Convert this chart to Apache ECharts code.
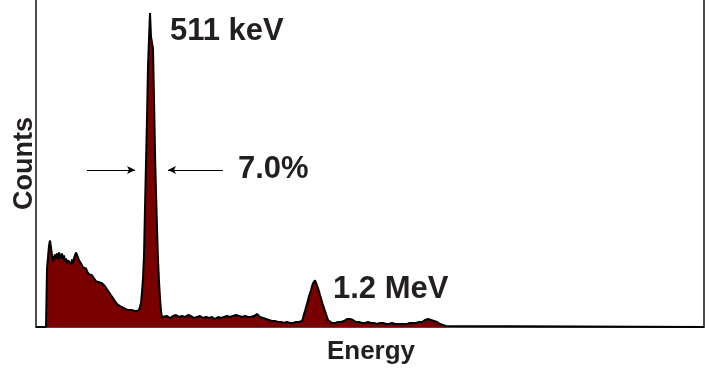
<!DOCTYPE html>
<html>
<head>
<meta charset="utf-8">
<script src="https://cdn.jsdelivr.net/npm/echarts@6/dist/echarts.min.js"></script>
<style>
  html, body { margin: 0; padding: 0; background: #fff; }
  #chart { width: 711px; height: 370px; }
</style>
</head>
<body>
<div id="chart"></div>
<script>
// Channel numbers (arbitrary energy units) and counts
var channels = [
  0, 10, 11, 12, 13, 14, 15, 16, 17, 18, 19, 20, 21, 22, 23, 24, 25, 26, 27, 28, 29,
  30, 31, 32, 33, 34, 35, 36, 37, 38, 39, 40, 41, 42, 43, 44, 45, 46, 47, 48, 49,
  50, 51, 52, 53, 54, 55, 56, 57, 58, 59, 60, 61, 62, 63, 64, 65, 66, 67, 68, 69,
  70, 71, 72, 73, 74, 75, 76, 77, 78, 79, 80, 81, 82, 83, 84, 86, 88, 90, 92, 94,
  96, 98, 100, 102, 103, 104, 105, 106, 107, 108, 109, 110, 111, 112, 113, 114,
  115, 116, 117, 118, 119, 120, 121, 122, 123, 124, 125, 126, 128, 131, 134, 137,
  140, 143, 146, 149, 152, 155, 158, 161, 164, 167, 170, 173, 176, 179, 182, 185,
  188, 191, 194, 197, 200, 203, 206, 209, 212, 215, 218, 221, 224, 227, 230, 233,
  236, 239, 242, 245, 248, 251, 254, 257, 260, 263, 265, 266, 267, 268, 269, 270,
  271, 272, 273, 274, 275, 276, 277, 278, 279, 280, 281, 282, 283, 284, 285, 286,
  287, 288, 289, 290, 291, 292, 293, 294, 296, 299, 302, 305, 308, 311, 314, 317,
  320, 323, 326, 329, 332, 335, 338, 341, 344, 347, 350, 353, 356, 359, 362, 365,
  368, 371, 374, 377, 380, 383, 386, 389, 392, 395, 398, 401, 404, 407, 410, 411, 668
];
var counts = [
  0, 0, 59, 70, 82, 87, 80, 72, 66, 70, 73, 69, 74, 68, 75, 76, 69, 74, 68, 72, 66,
  69, 64, 67, 69, 65, 63, 68, 64, 69, 72, 75, 73, 70, 67, 68, 64, 63, 60, 62, 58,
  59, 56, 57, 53, 55, 52, 52, 50, 49, 50, 46, 48, 45, 45, 47, 45, 44, 42, 43, 41,
  40, 38, 37, 35, 34, 32, 31, 29, 27, 26, 24, 23, 22, 22, 21, 20, 19, 18, 17, 16,
  17, 15, 16, 16, 17, 19, 24, 35, 49, 72, 120, 165, 210, 262, 290, 316,
  292, 286, 280, 230, 175, 135, 100, 68, 46, 29, 16, 10, 10, 11, 9, 11,
  12, 10, 11, 10, 12, 11, 9, 10, 11, 9, 10, 9, 10, 8, 10, 9,
  10, 11, 10, 11, 12, 11, 10, 11, 10, 10, 11, 13, 10, 9, 8, 7,
  6, 6, 5, 5, 4, 5, 4, 4, 5, 5, 5, 6, 9, 13, 16, 20,
  23, 27, 31, 34, 37, 41, 44, 46, 47, 45, 42, 39, 36, 32, 29, 25,
  22, 19, 16, 13, 10, 7, 6, 5, 4, 4, 5, 5, 6, 8, 8, 7,
  5, 5, 4, 4, 5, 4, 4, 3, 4, 4, 3, 3, 4, 3, 3, 3,
  3, 3, 4, 4, 4, 5, 5, 7, 8, 7, 6, 5, 3, 2, 1, 0, 0
];
// FWHM arrow annotations: [fromChannel, toChannel, countLevel]
var arrowLeft = [51, 99, 158];
var arrowRight = [187, 132, 158];
var peakLabels = ['511 keV', '7.0%', '1.2 MeV'];
var axisNames = ['Energy', 'Counts'];

var data = channels.map(function (c, i) { return [c, counts[i]]; });

var chart = echarts.init(document.getElementById('chart'), null, { renderer: 'canvas' });
var FONT = '"Liberation Sans", Arial, Helvetica, sans-serif';
var TXT = '#231f20';

function arrow(a) {
  return [
    { coord: [a[0], a[2]], symbol: 'none' },
    { coord: [a[1], a[2]], symbol: 'arrow', symbolSize: [6, 8] }
  ];
}

chart.setOption({
  animation: false,
  backgroundColor: '#fff',
  grid: { left: 36, right: 7, top: 0, bottom: 41, containLabel: false },
  xAxis: {
    type: 'value', min: 0, max: 668,
    name: axisNames[0], nameLocation: 'middle', nameGap: 12,
    nameTextStyle: { fontFamily: FONT, fontWeight: 'bold', fontSize: 26, color: TXT, verticalAlign: 'top', padding: [0, 0, 0, 2] },
    axisLine: { show: true, lineStyle: { color: '#111', width: 1.5 } },
    axisTick: { show: false }, axisLabel: { show: false }, splitLine: { show: false }
  },
  yAxis: [{
    type: 'value', min: 0, max: 329,
    name: axisNames[1], nameLocation: 'middle', nameGap: -2,
    nameTextStyle: { fontFamily: FONT, fontWeight: 'bold', fontSize: 27, color: TXT },
    axisLine: { show: true, lineStyle: { color: '#111', width: 1.5 } },
    axisTick: { show: false }, axisLabel: { show: false }, splitLine: { show: false }
  }, {
    type: 'value', min: 0, max: 329, position: 'right',
    axisLine: { show: true, lineStyle: { color: '#111', width: 1.5 } },
    axisTick: { show: false }, axisLabel: { show: false }, splitLine: { show: false }
  }],
  series: [{
    type: 'line',
    data: data,
    showSymbol: false,
    symbol: 'none',
    sampling: null,
    lineStyle: { color: '#000', width: 2 },
    areaStyle: { color: '#7a0000', opacity: 1 },
    z: 2,
    markLine: {
      silent: true,
      symbol: ['none', 'arrow'],
      label: { show: false },
      lineStyle: { color: '#000', width: 1.2, type: 'solid' },
      emphasis: { disabled: true },
      data: [arrow(arrowLeft), arrow(arrowRight)]
    }
  }],
  graphic: [
    { type: 'text', left: 170, top: 16, style: { text: peakLabels[0], font: 'bold 31px ' + FONT, fill: TXT } },
    { type: 'text', left: 238, top: 154, style: { text: peakLabels[1], font: 'bold 31px ' + FONT, fill: TXT } },
    { type: 'text', left: 333, top: 274, style: { text: peakLabels[2], font: 'bold 31px ' + FONT, fill: TXT } }
  ]
});
</script>
</body>
</html>
